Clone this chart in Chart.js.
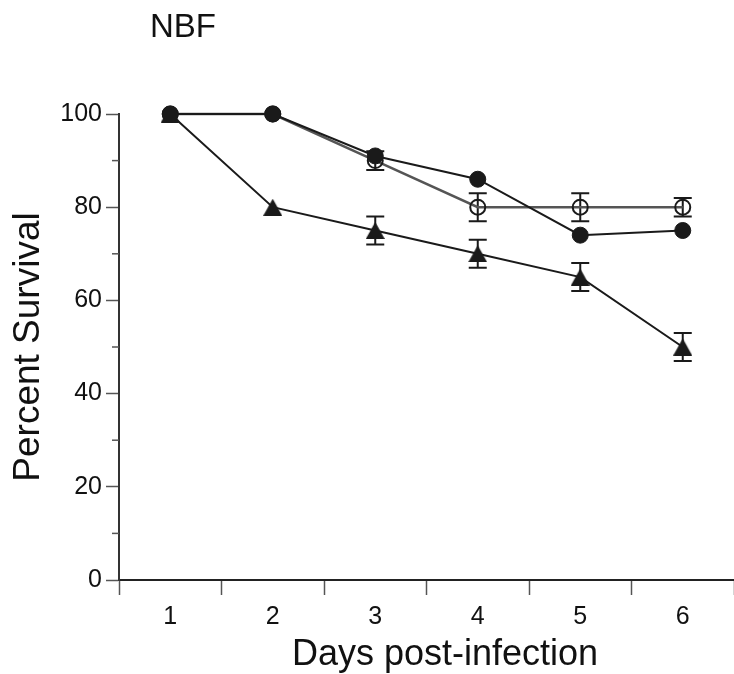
<!DOCTYPE html>
<html>
<head>
<meta charset="utf-8">
<script src="https://cdn.jsdelivr.net/npm/chart.js@4/dist/chart.umd.min.js"></script>
<style>
  html, body { margin: 0; padding: 0; background: #fff; overflow: hidden; }
  #wrap { width: 734px; height: 674px; }
  canvas { display: block; }
</style>
</head>
<body>
<div id="wrap"><canvas id="survivalChart" width="734" height="674"></canvas></div>
<script>
// data
const days = ['1', '2', '3', '4', '5', '6'];
const filledCircle = [100, 100, 91, 86, 74, 75];
const filledCircleErr = [0, 0, 0, 0, 0, 0];
const openCircle = [100, 100, 90, 80, 80, 80];
const openCircleErr = [0, 0, 2, 3, 3, 2];
const triangle = [100, 80, 75, 70, 65, 50];
const triangleErr = [0, 0, 3, 3, 3, 3];
const minorTicks = [10, 30, 50, 70, 90];

const FONT = "'Liberation Sans', Arial, Helvetica, sans-serif";
const INK = '#1a1a1a';

// triangle marker centred on its box
function makeTriangle(w, h, color) {
    const c = document.createElement('canvas');
    c.width = w; c.height = h;
    const g = c.getContext('2d');
    g.fillStyle = color;
    g.beginPath();
    g.moveTo(w / 2, 0);
    g.lineTo(w, h);
    g.lineTo(0, h);
    g.closePath();
    g.fill();
    return c;
}

const errorBars = {
    id: 'errorBars',
    beforeDatasetsDraw(chart) {
        const ctx = chart.ctx;
        const y = chart.scales.y;
        chart.data.datasets.forEach((ds, i) => {
            const meta = chart.getDatasetMeta(i);
            if (!ds.errors) return;
            ctx.save();
            ctx.strokeStyle = INK;
            ctx.lineWidth = 2;
            meta.data.forEach((pt, j) => {
                const e = ds.errors[j];
                if (!e) return;
                const top = y.getPixelForValue(ds.data[j] + e);
                const bot = y.getPixelForValue(ds.data[j] - e);
                const half = 9;
                ctx.beginPath();
                ctx.moveTo(pt.x, top); ctx.lineTo(pt.x, bot);
                ctx.moveTo(pt.x - half, top); ctx.lineTo(pt.x + half, top);
                ctx.moveTo(pt.x - half, bot); ctx.lineTo(pt.x + half, bot);
                ctx.stroke();
            });
            ctx.restore();
        });
    }
};

const extras = {
    id: 'extras',
    afterDraw(chart) {
        const ctx = chart.ctx;
        const y = chart.scales.y;
        ctx.save();
        // minor ticks on the y axis
        ctx.strokeStyle = '#555';
        ctx.lineWidth = 1.5;
        minorTicks.forEach(v => {
            const py = y.getPixelForValue(v);
            ctx.beginPath();
            ctx.moveTo(y.right - 7, py);
            ctx.lineTo(y.right, py);
            ctx.stroke();
        });
        // panel title and x axis title
        ctx.fillStyle = '#111';
        ctx.textBaseline = 'alphabetic';
        ctx.textAlign = 'left';
        ctx.font = '33px ' + FONT;
        ctx.fillText('NBF', 150, 37);
        ctx.textAlign = 'center';
        ctx.font = '36px ' + FONT;
        ctx.fillText('Days post-infection', 445, 665);
        ctx.restore();
    }
};

new Chart(document.getElementById('survivalChart').getContext('2d'), {
    type: 'line',
    data: {
        labels: days,
        datasets: [{
            label: 'filled',
            data: filledCircle,
            errors: filledCircleErr,
            order: 0,
            clip: false,
            borderColor: INK,
            borderWidth: 2,
            pointStyle: 'circle',
            pointRadius: 8,
            pointBorderWidth: 1,
            pointBackgroundColor: INK,
            pointBorderColor: INK
        }, {
            label: 'open',
            data: openCircle,
            errors: openCircleErr,
            order: 1,
            clip: false,
            borderColor: '#555',
            borderWidth: 2.5,
            pointStyle: 'circle',
            pointRadius: 7.5,
            pointBorderWidth: 2,
            pointBackgroundColor: 'rgba(0,0,0,0)',
            pointBorderColor: INK
        }, {
            label: 'triangle',
            data: triangle,
            errors: triangleErr,
            order: 2,
            clip: false,
            borderColor: INK,
            borderWidth: 2,
            pointStyle: makeTriangle(19, 17, INK),
            pointRadius: 9
        }]
    },
    options: {
        responsive: false,
        animation: false,
        events: [],
        layout: { autoPadding: false, padding: { top: 114, right: -3, bottom: 0, left: 0 } },
        plugins: { legend: { display: false }, title: { display: false }, tooltip: { enabled: false } },
        elements: { line: { tension: 0 } },
        scales: {
            x: {
                type: 'category',
                offset: true,
                afterFit(scale) {
                    scale.height = 94;
                    scale.paddingLeft = 0;
                    scale.paddingRight = 0;
                },
                grid: { offset: true, drawOnChartArea: false, tickLength: 15, tickColor: '#555', tickWidth: 1.5 },
                border: { color: '#222', width: 2 },
                ticks: { color: '#111', padding: 7, font: { family: FONT, size: 25 } }
            },
            y: {
                min: 0,
                max: 100,
                afterFit(scale) {
                    scale.width = 119;
                    scale.paddingTop = 0;
                    scale.paddingBottom = 0;
                },
                grid: { drawOnChartArea: false, tickLength: 13, tickColor: '#555', tickWidth: 1.5 },
                border: { color: '#333', width: 2 },
                ticks: { stepSize: 20, color: '#111', padding: 4, font: { family: FONT, size: 25 } },
                title: {
                    display: true,
                    text: 'Percent Survival',
                    color: '#111',
                    padding: { top: 7, bottom: 0 },
                    font: { family: FONT, size: 37 }
                }
            }
        }
    },
    plugins: [errorBars, extras]
});
</script>
</body>
</html>
